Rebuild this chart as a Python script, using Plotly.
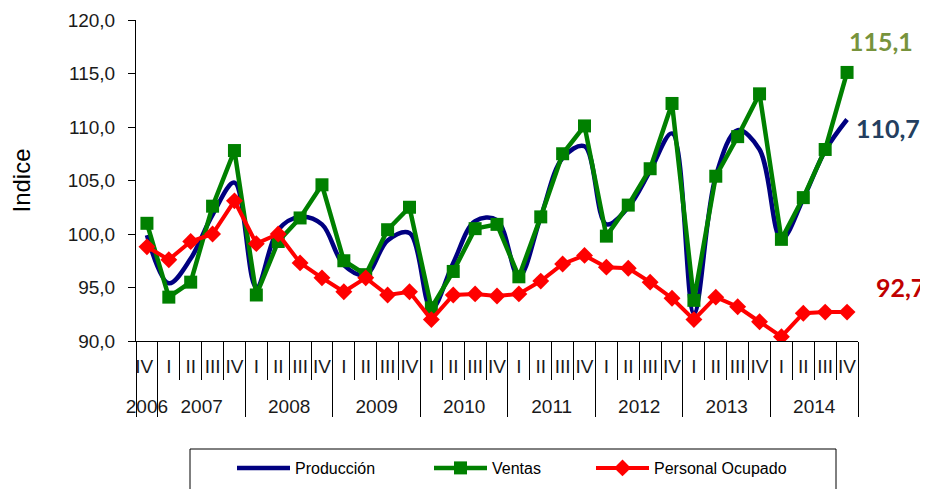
import plotly.graph_objects as go

# ---------------- data ----------------
year_labels = ["2006"] + [str(y) for y in range(2007, 2015) for _ in range(4)]
# trailing space on the lone 2006 quarter keeps the I..IV order inside each year
quarter_labels = ["IV "] + ["I", "II", "III", "IV"] * 8

produccion = [99.9, 95.4, 97.7, 101.8, 104.8, 95.0, 100.4, 101.6, 100.9, 97.1, 96.2,
              99.4, 100.1, 93.0, 97.3, 101.2, 101.3, 96.0, 101.6, 107.1, 108.2,
              100.9, 102.5, 105.9, 109.4, 92.6, 105.4, 109.7, 107.9, 99.5, 103.3,
              107.8, 110.7]
ventas = [101.0, 94.1, 95.5, 102.6, 107.8, 94.3, 99.3, 101.5, 104.6, 97.5, 96.2,
          100.4, 102.5, 93.1, 96.5, 100.5, 100.9, 96.0, 101.6, 107.5, 110.1,
          99.8, 102.7, 106.1, 112.2, 93.8, 105.4, 109.1, 113.1, 99.5, 103.4,
          107.9, 115.1]
personal = [98.8, 97.6, 99.3, 100.0, 103.1, 99.1, 100.0, 97.3, 95.9, 94.6, 95.9,
            94.3, 94.6, 92.0, 94.3, 94.4, 94.2, 94.4, 95.6, 97.2, 98.0,
            96.9, 96.8, 95.5, 94.0, 92.0, 94.1, 93.2, 91.8, 90.4, 92.6,
            92.7, 92.7]

series_names = ["Producción", "Ventas", "Personal Ocupado"]
y_ticks = [90, 95, 100, 105, 110, 115, 120]

# ---------------- layout geometry ----------------
OFF = 8  # default page body margin
W, H = 928 - OFF, 489 - OFF
ML, MT = 136 - OFF, 20 - OFF
PR_REF, PB_REF = 858, 341
MR = W - (PR_REF - OFF)
MB = H - (PB_REF - OFF)
PW, PH = W - ML - MR, H - MT - MB


def px_x(px):
    return (px - OFF - ML) / PW


def px_y(py):
    return (H - MB - (py - OFF)) / PH


# outer level shown one line lower (empty first line)
outer = ["<br>" + y for y in year_labels]
x = [outer, quarter_labels]
n = len(quarter_labels)

fig = go.Figure()
fig.add_trace(go.Scatter(
    x=x, y=produccion, name=series_names[0], mode="lines",
    line=dict(color="#000080", width=4.5, shape="spline", smoothing=1.0),
    legend="legend"))
fig.add_trace(go.Scatter(
    x=x, y=ventas, name=series_names[1], mode="lines+markers",
    line=dict(color="#008000", width=4.5),
    marker=dict(symbol="square", size=13, color="#008000"),
    legend="legend2"))
fig.add_trace(go.Scatter(
    x=x, y=personal, name=series_names[2], mode="lines+markers",
    line=dict(color="#FF0000", width=4),
    marker=dict(symbol="diamond", size=13, color="#FF0000"),
    legend="legend3"))


def fmt(v):
    return f"{v:.1f}".replace(".", ",")


ann_font = "Lato, 'Open Sans', sans-serif"
annotations = [
    dict(xref="paper", yref="y", x=1, y=ventas[-1], text=f"<b>{fmt(ventas[-1])}</b>",
         showarrow=False, xanchor="left", yanchor="middle", xshift=-11, yshift=31,
         font=dict(family=ann_font, size=25, color="#77933C")),
    dict(xref="paper", yref="y", x=1, y=produccion[-1], text=f"<b>{fmt(produccion[-1])}</b>",
         showarrow=False, xanchor="left", yanchor="middle", xshift=-4, yshift=-8,
         font=dict(family=ann_font, size=25, color="#243F60")),
    dict(xref="paper", yref="y", x=1, y=personal[-1], text=f"<b>{fmt(personal[-1])}</b>",
         showarrow=False, xanchor="left", yanchor="middle", xshift=16, yshift=25,
         font=dict(family=ann_font, size=25, color="#C00000")),
]

legend_font = dict(family="Liberation Sans, Arial, sans-serif", size=16, color="#000000")
leg_common = dict(orientation="h", yanchor="middle", y=px_y(468), xanchor="left",
                  font=legend_font, bgcolor="rgba(0,0,0,0)", itemwidth=53)

fig.update_layout(
    width=W, height=H,
    margin=dict(l=ML, r=MR, t=MT, b=MB, autoexpand=False),
    paper_bgcolor="white", plot_bgcolor="white",
    separators=",.",
    showlegend=True,
    font=dict(family="Liberation Sans, Arial, sans-serif", color="#1a1a1a"),
    xaxis=dict(
        type="multicategory", range=[-0.5, n - 0.5],
        tickmode="linear", tick0=0, dtick=1,
        showline=True, linecolor="black", linewidth=1,
        ticks="outside", ticklen=38, tickcolor="black", tickwidth=1,
        showdividers=True, dividercolor="black", dividerwidth=1,
        tickfont=dict(size=19, color="#1a1a1a"), tickangle=0,
        ticklabelstandoff=8, showgrid=False, zeroline=False,
    ),
    yaxis=dict(
        range=[90, 120], tickvals=y_ticks, tickformat=".1f",
        showline=True, linecolor="black", linewidth=1,
        ticks="outside", ticklen=7, tickcolor="black",
        tickfont=dict(size=19, color="#1a1a1a"), ticklabelstandoff=9,
        showgrid=False, zeroline=False,
        title=dict(text="Indice", font=dict(size=24, color="#000000"), standoff=42),
    ),
    legend=dict(leg_common, x=px_x(232)),
    legend2=dict(leg_common, x=px_x(429)),
    legend3=dict(leg_common, x=px_x(591)),
    annotations=annotations,
    shapes=[dict(type="rect", xref="paper", yref="paper",
                 x0=px_x(190), x1=px_x(836), y0=px_y(449), y1=px_y(510),
                 line=dict(color="black", width=1), fillcolor="rgba(0,0,0,0)")],
)

fig.write_html("out.html")
